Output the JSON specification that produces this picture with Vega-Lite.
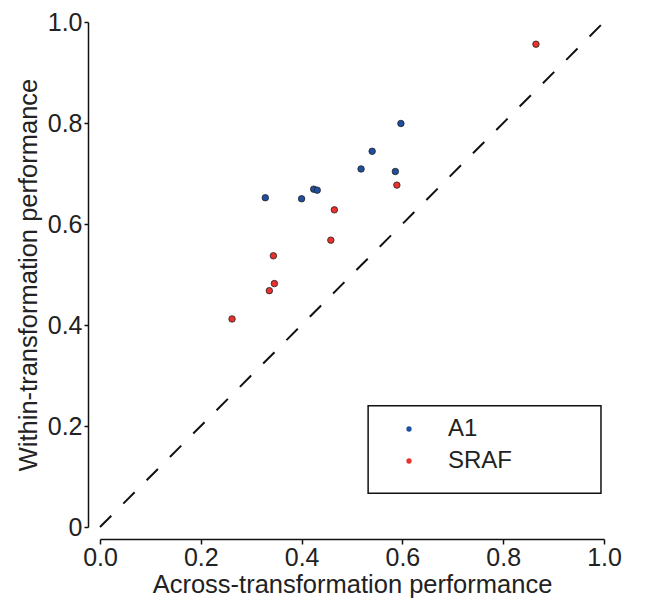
{
  "$schema": "https://vega.github.io/schema/vega-lite/v6.json",
  "autosize": "none",
  "width": 504,
  "height": 505,
  "padding": {"left": 100, "top": 22, "right": 43, "bottom": 73},
  "background": "white",
  "config": {
    "view": {"stroke": null},
    "font": "Liberation Sans"
  },
  "datasets": {
    "pts": [
      {"across": 0.597, "within": 0.799, "model": "A1"},
      {"across": 0.540, "within": 0.744, "model": "A1"},
      {"across": 0.518, "within": 0.709, "model": "A1"},
      {"across": 0.586, "within": 0.704, "model": "A1"},
      {"across": 0.424, "within": 0.669, "model": "A1"},
      {"across": 0.431, "within": 0.667, "model": "A1"},
      {"across": 0.328, "within": 0.652, "model": "A1"},
      {"across": 0.400, "within": 0.650, "model": "A1"},
      {"across": 0.865, "within": 0.956, "model": "SRAF"},
      {"across": 0.589, "within": 0.677, "model": "SRAF"},
      {"across": 0.465, "within": 0.628, "model": "SRAF"},
      {"across": 0.458, "within": 0.568, "model": "SRAF"},
      {"across": 0.344, "within": 0.537, "model": "SRAF"},
      {"across": 0.346, "within": 0.482, "model": "SRAF"},
      {"across": 0.336, "within": 0.468, "model": "SRAF"},
      {"across": 0.262, "within": 0.412, "model": "SRAF"}
    ],
    "diag": [
      {"across": 0, "within": 0},
      {"across": 1, "within": 1}
    ]
  },
  "layer": [
    {
      "data": {"name": "diag"},
      "mark": {"type": "line", "color": "#111", "strokeWidth": 2, "strokeDash": [16, 17]},
      "encoding": {
        "x": {"field": "across", "type": "quantitative", "scale": {"domain": [0, 1], "nice": false},
          "axis": {"title": "Across-transformation performance", "values": [0, 0.2, 0.4, 0.6, 0.8, 1.0], "format": ".1f", "offset": 12, "tickSize": 5, "labelPadding": 1, "titlePadding": 2, "grid": false, "labelFlush": false, "labelFontSize": 25, "titleFontSize": 25.5, "titleFontWeight": "normal", "labelColor": "#222", "titleColor": "#222", "domainColor": "#111", "tickColor": "#111", "domainWidth": 1.5, "tickWidth": 1.5}},
        "y": {"field": "within", "type": "quantitative", "scale": {"domain": [0, 1], "nice": false},
          "axis": {"title": "Within-transformation performance", "values": [0, 0.2, 0.4, 0.6, 0.8, 1.0], "labelExpr": "datum.value == 0 ? '0' : format(datum.value, '.1f')", "offset": 12, "tickSize": 4, "labelPadding": 2, "titlePadding": 6, "grid": false, "labelFlush": false, "labelFontSize": 25, "titleFontSize": 25.5, "titleFontWeight": "normal", "labelColor": "#222", "titleColor": "#222", "domainColor": "#111", "tickColor": "#111", "domainWidth": 1.5, "tickWidth": 1.5}}
      }
    },
    {
      "data": {"values": [{}]},
      "mark": {"type": "rect", "fill": "white", "stroke": "#111", "strokeWidth": 1.5},
      "encoding": {
        "x": {"datum": 0.532, "type": "quantitative"},
        "x2": {"datum": 0.994},
        "y": {"datum": 0.067, "type": "quantitative"},
        "y2": {"datum": 0.240}
      }
    },
    {
      "data": {"name": "pts"},
      "mark": {"type": "point", "filled": true, "size": 42, "stroke": "#222", "strokeWidth": 0.8, "opacity": 1},
      "encoding": {
        "x": {"field": "across", "type": "quantitative"},
        "y": {"field": "within", "type": "quantitative"},
        "color": {"field": "model", "type": "nominal",
          "scale": {"domain": ["A1", "SRAF"], "range": ["#1f4fa0", "#e8322d"]},
          "legend": {"title": null, "orient": "none", "legendX": 297, "legendY": 395, "symbolType": "circle", "symbolSize": 28, "symbolStrokeWidth": 0, "labelFontSize": 24, "labelColor": "#222", "labelOffset": 27, "rowPadding": 8, "padding": 0}
        }
      }
    }
  ]
}
